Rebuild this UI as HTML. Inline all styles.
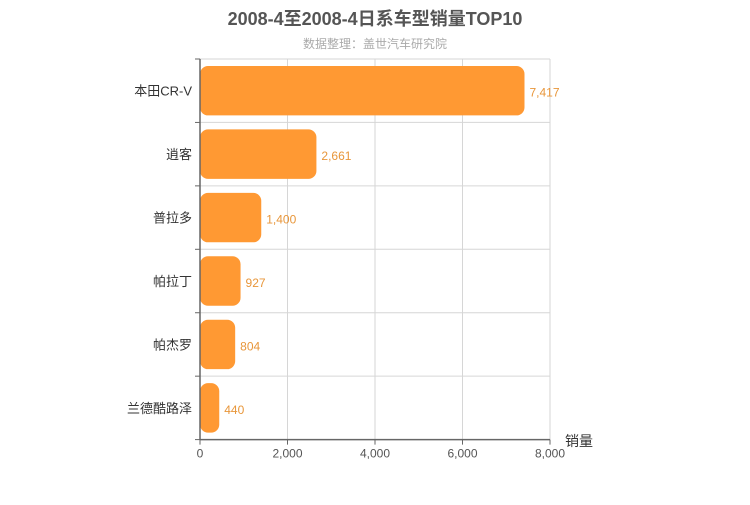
<!DOCTYPE html>
<html><head><meta charset="utf-8"><style>
body{margin:0;background:#fff;}
svg{font-family:"Liberation Sans","Noto Sans CJK SC",sans-serif;}
</style></head><body>
<svg id="c" width="750" height="500">
<text x="375" y="25" text-anchor="middle" font-size="18" font-weight="bold" fill="#555">2008-4至2008-4日系车型销量TOP10</text>
<text x="375" y="48" text-anchor="middle" font-size="12" fill="#aaa">数据整理：盖世汽车研究院</text>
<text x="565" y="446" font-size="14" fill="#333">销量</text>
</svg>
<script>
const categories=["本田CR-V","逍客","普拉多","帕拉丁","帕杰罗","兰德酷路泽"];
const values=[7417,2661,1400,927,804,440];
const ticks=[0,2000,4000,6000,8000];
const tickLabels=["0","2,000","4,000","6,000","8,000"];
const svg=document.getElementById('c');const NS="http://www.w3.org/2000/svg";
const x0=200,x1=550,y0=59,y1=439.6,max=8000;
const X=v=>x0+(x1-x0)*v/max;
const rh=(y1-y0)/categories.length;
function mk(t,a,txt){const e=document.createElementNS(NS,t);for(const k in a)e.setAttribute(k,a[k]);if(txt!=null)e.textContent=txt;svg.appendChild(e);return e;}
ticks.forEach((t,i)=>{
 if(i>0){const g=mk('line',{x1:X(t),x2:X(t),y1:y0,y2:y1,stroke:'#d6d6d6'});
 
 }
 const tk=mk('line',{x1:X(t),x2:X(t),y1:y1,y2:y1+5,stroke:'#666'});
 
 
 const l=mk('text',{x:X(t),y:y1+18,'text-anchor':'middle','font-size':12,fill:'#555'},tickLabels[i]);
 
 
});
for(let i=0;i<=categories.length;i++){
 const y=y0+i*rh;
 if(i<categories.length){const g=mk('line',{x1:x0,x2:x1,y1:y,y2:y,stroke:'#d6d6d6'});
 
 }
 const tk=mk('line',{x1:x0-5,x2:x0,y1:y,y2:y,stroke:'#666'});
 
 
}
categories.forEach((c,i)=>{
 const yt=y0+i*rh;
 const b=mk('rect',{x:x0,y:yt+7,width:X(values[i])-x0,height:rh-14,rx:8,fill:'#ff9933'});
 
 
 const l=mk('text',{x:x0-8,y:yt+rh/2+5,'text-anchor':'end','font-size':13,fill:'#333'},c);
 
 
 const v=mk('text',{x:X(values[i])+5,y:yt+rh/2+6,'font-size':12,fill:'#e8963a'},values[i].toLocaleString('en-US'));
 
 
});
const ax=mk('line',{x1:x0,x2:x1,y1:y1,y2:y1,stroke:'#666','stroke-width':1.5});


const ay=mk('line',{x1:x0,x2:x0,y1:y0,y2:y1,stroke:'#666','stroke-width':1.5});


</script>
</body></html>
